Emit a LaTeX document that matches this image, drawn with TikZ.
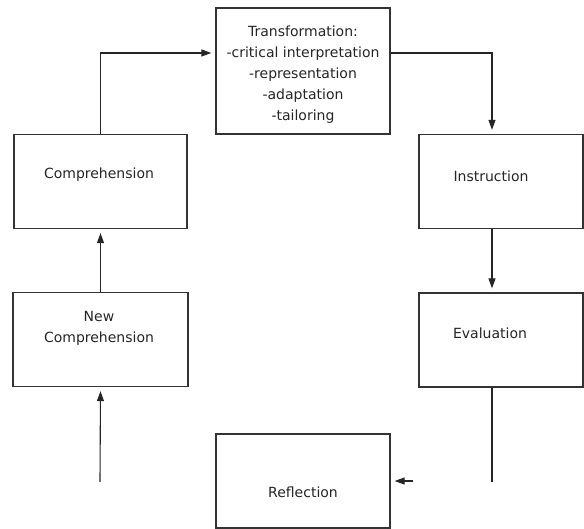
\documentclass[tikz,border=0pt]{standalone}
\usepackage{fontspec}
\setmainfont{DejaVu Sans}
\usetikzlibrary{arrows.meta, positioning}

\begin{document}
\begin{tikzpicture}[
  x=1pt, y=-1pt,
  font=\fontsize{14}{21}\selectfont,
  stage/.style={
    draw=black!80, line width=1.3pt, fill=white,
    minimum width=#1, minimum height=94pt, inner sep=0pt
  },
  caption/.style={text=black!85, align=center, inner sep=0pt},
  link/.style={draw=black!85, line width=1.1pt},
  arr/.style={-{Triangle[length=10pt,width=7pt]}, shorten >=4pt}
]
\useasboundingbox (0,0) rectangle (584,529);

% boxes
\node[stage=174pt, minimum height=126pt] (trans) at (303,71) {};
\node[stage=173pt] (comp)  at (100.5,181.5) {};
\node[stage=164pt] (inst)  at (501,181.5) {};
\node[stage=164pt] (eval)  at (501,340) {};
\node[stage=175pt] (ncomp) at (100.5,339.5) {};
\node[stage=174pt] (refl)  at (303,481) {};

% texts
\node[caption] (trans-t) at (303,75) {Transformation:\\-critical interpretation\\-representation\\-adaptation\\-tailoring};
\node[caption] (comp-t)  at (99,175)    {Comprehension};
\node[caption] (inst-t)  at (491,176)   {Instruction};
\node[caption] (eval-t)  at (490,333)   {Evaluation};
\node[caption] (ncomp-t) at (99,328.5)  {New\\Comprehension};
\node[caption] (refl-t)  at (303,492)   {Reflection};

% loose ends
\coordinate (rcol) at (492,0);
\coordinate (rend) at (492,482);
\coordinate (lend) at (100,482);
\coordinate (rarr) at (413,481);

% connectors
\draw[link, arr] (comp.north) |- ([yshift=18pt]trans.west);
\draw[link, arr] ([yshift=18pt]trans.east) -| (inst.north -| rcol);
\draw[link, arr] (inst.south -| rcol) -- (eval.north -| rcol);
\draw[link] (eval.south -| rcol) -- (rend);
\draw[link, arr] (rarr) -- (refl.east);
\draw[link, arr] (lend) -- (ncomp.south);
\draw[link, arr] (ncomp.north) -- (comp.south);

\end{tikzpicture}
\end{document}
